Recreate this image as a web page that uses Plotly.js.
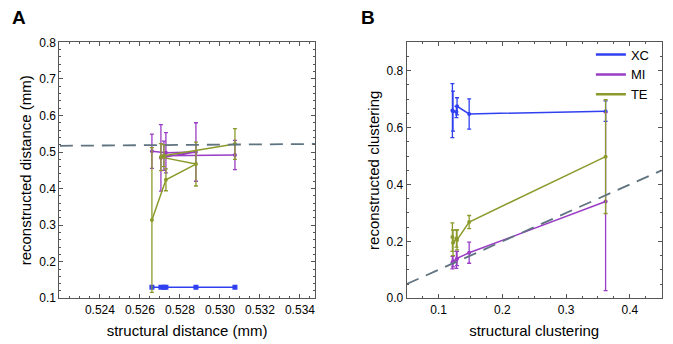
<!DOCTYPE html>
<html>
<head>
<meta charset="utf-8">
<script src="https://cdn.plot.ly/plotly-3.0.1.min.js"></script>
<style>
  html, body { margin: 0; padding: 0; background: #fff; }
  #chart { width: 673px; height: 344px; }
</style>
</head>
<body>
<div id="chart"></div>
<script>
// panel A: structural vs reconstructed distance (mm)
const distX = [0.5266, 0.5273, 0.5288, 0.52705, 0.5272, 0.53075];
const distXC = [0.13, 0.13, 0.13, 0.13, 0.13, 0.13];
const distMI = [0.502, 0.498, 0.500, 0.484, 0.490, 0.492];
const distMIErr = [0.047, 0.055, 0.080, 0.091, 0.040, 0.040];
const distTE = [0.314, 0.424, 0.467, 0.486, 0.490, 0.522];
const distTEErr = [0.198, 0.030, 0.060, 0.037, 0.030, 0.042];
const distRefX = [0.522, 0.535];
const distRefY = [0.517, 0.522];
const distTicks = [0.524, 0.526, 0.528, 0.530, 0.532, 0.534];

// panel B: structural vs reconstructed clustering
const clusX = [0.1217, 0.1227, 0.128, 0.129, 0.148, 0.362];
const clusXC = [0.660, 0.658, 0.655, 0.675, 0.648, 0.658];
const clusXCErr = [0.095, 0.070, 0.020, 0.030, 0.053, 0.036];
const clusMI = [0.125, 0.130, 0.135, 0.140, 0.160, 0.340];
const clusMIErr = [0.022, 0.020, 0.030, 0.025, 0.037, 0.313];
const clusTE = [0.215, 0.195, 0.210, 0.205, 0.268, 0.498];
const clusTEErr = [0.050, 0.045, 0.030, 0.035, 0.023, 0.200];
const clusRefX = [0.05, 0.45];
const clusRefY = [0.05, 0.45];

const methods = ['XC', 'MI', 'TE'];
const colors = { XC: '#3040f0', MI: '#9a3cc4', TE: '#8c9a2c' };
const font = 'Liberation Sans, Arial, Helvetica, sans-serif';

function series(x, y, err, name, xa, ya, symbol) {
    return {
        type: 'scatter',
        mode: 'lines+markers',
        x: x, y: y,
        xaxis: xa, yaxis: ya,
        name: name,
        showlegend: false,
        line: { color: colors[name], width: 1.5 },
        marker: { color: colors[name], size: symbol === 'square' ? 5 : 4, symbol: symbol || 'circle' },
        error_y: err ? { type: 'data', array: err, visible: true, color: colors[name], thickness: 1.3, width: 2 } : { visible: false }
    };
}

function refLine(x, y, xa, ya) {
    return {
        type: 'scatter', mode: 'lines', x: x, y: y, xaxis: xa, yaxis: ya,
        showlegend: false, hoverinfo: 'none',
        line: { color: '#5f7380', width: 1.8, dash: '13px,8px' }
    };
}

const traces = [
    series(distX, distXC, null, 'XC', 'x', 'y', 'square'),
    series(distX, distMI, distMIErr, 'MI', 'x', 'y'),
    series(distX, distTE, distTEErr, 'TE', 'x', 'y'),
    refLine(distRefX, distRefY, 'x', 'y'),
    series(clusX, clusXC, clusXCErr, 'XC', 'x2', 'y2'),
    series(clusX, clusMI, clusMIErr, 'MI', 'x2', 'y2'),
    series(clusX, clusTE, clusTEErr, 'TE', 'x2', 'y2'),
    refLine(clusRefX, clusRefY, 'x2', 'y2')
];

// legend-only entries (lines, no markers)
methods.forEach(m => {
    traces.push({
        type: 'scatter', mode: 'lines', x: [null], y: [null], xaxis: 'x2', yaxis: 'y2',
        name: m, showlegend: true, line: { color: colors[m], width: 2.5 }
    });
});

function axis(extra) {
    return Object.assign({
        showgrid: false, zeroline: false,
        showline: true, linecolor: '#555', linewidth: 1, mirror: 'ticks',
        ticks: 'inside', ticklen: 4, tickcolor: '#555', tickwidth: 1,
        tickfont: { family: font, size: 12, color: '#000' },
        fixedrange: true
    }, extra);
}

const yDomain = [0.133, 0.877];

const layout = {
    width: 673, height: 344,
    margin: { l: 0, r: 0, t: 0, b: 0 },
    paper_bgcolor: '#fff', plot_bgcolor: '#fff',
    font: { family: font, color: '#000' },
    xaxis: axis({
        domain: [0.0881, 0.468], range: [0.52197, 0.53475],
        tickmode: 'array', tickvals: distTicks, ticktext: distTicks.map(v => v.toFixed(3)),
        minor: { tickmode: 'linear', tick0: 0.522, dtick: 0.0005, ticks: 'inside', ticklen: 2, tickcolor: '#555' },
        title: { text: 'structural distance (mm)', font: { size: 15 }, standoff: 9 },
        anchor: 'y'
    }),
    yaxis: axis({
        domain: yDomain, range: [0.1, 0.8], dtick: 0.1, tickformat: '.1f',
        minor: { ticks: 'inside', ticklen: 2, dtick: 0.02, tickcolor: '#555' },
        title: { text: 'reconstructed distance (mm)', font: { size: 15 }, standoff: 3 },
        anchor: 'x'
    }),
    xaxis2: axis({
        domain: [0.6043, 0.9832], range: [0.05, 0.45], dtick: 0.1, tick0: 0, tickformat: '.1f',
        minor: { ticks: 'inside', ticklen: 2, dtick: 0.025, tickcolor: '#555' },
        title: { text: 'structural clustering', font: { size: 15 }, standoff: 9 },
        anchor: 'y2'
    }),
    yaxis2: axis({
        domain: yDomain, range: [0, 0.9], dtick: 0.2, tickformat: '.1f',
        minor: { ticks: 'inside', ticklen: 2, dtick: 0.05, tickcolor: '#555' },
        title: { text: 'reconstructed clustering', font: { size: 15 }, standoff: 3 },
        anchor: 'x2'
    }),
    legend: {
        x: 0.878, y: 0.885, xanchor: 'left', yanchor: 'top',
        bgcolor: 'rgba(0,0,0,0)', font: { family: font, size: 13, color: '#000' },
        itemwidth: 30, tracegroupgap: 0
    },
    annotations: [
        { text: '<b>A</b>', xref: 'paper', yref: 'paper', x: 0.015, y: 0.985, xanchor: 'left', yanchor: 'top', showarrow: false, font: { family: font, size: 19, color: '#000' } },
        { text: '<b>B</b>', xref: 'paper', yref: 'paper', x: 0.533, y: 0.985, xanchor: 'left', yanchor: 'top', showarrow: false, font: { family: font, size: 19, color: '#000' } }
    ]
};

Plotly.newPlot('chart', traces, layout, { displayModeBar: false, staticPlot: true });
</script>
</body>
</html>
